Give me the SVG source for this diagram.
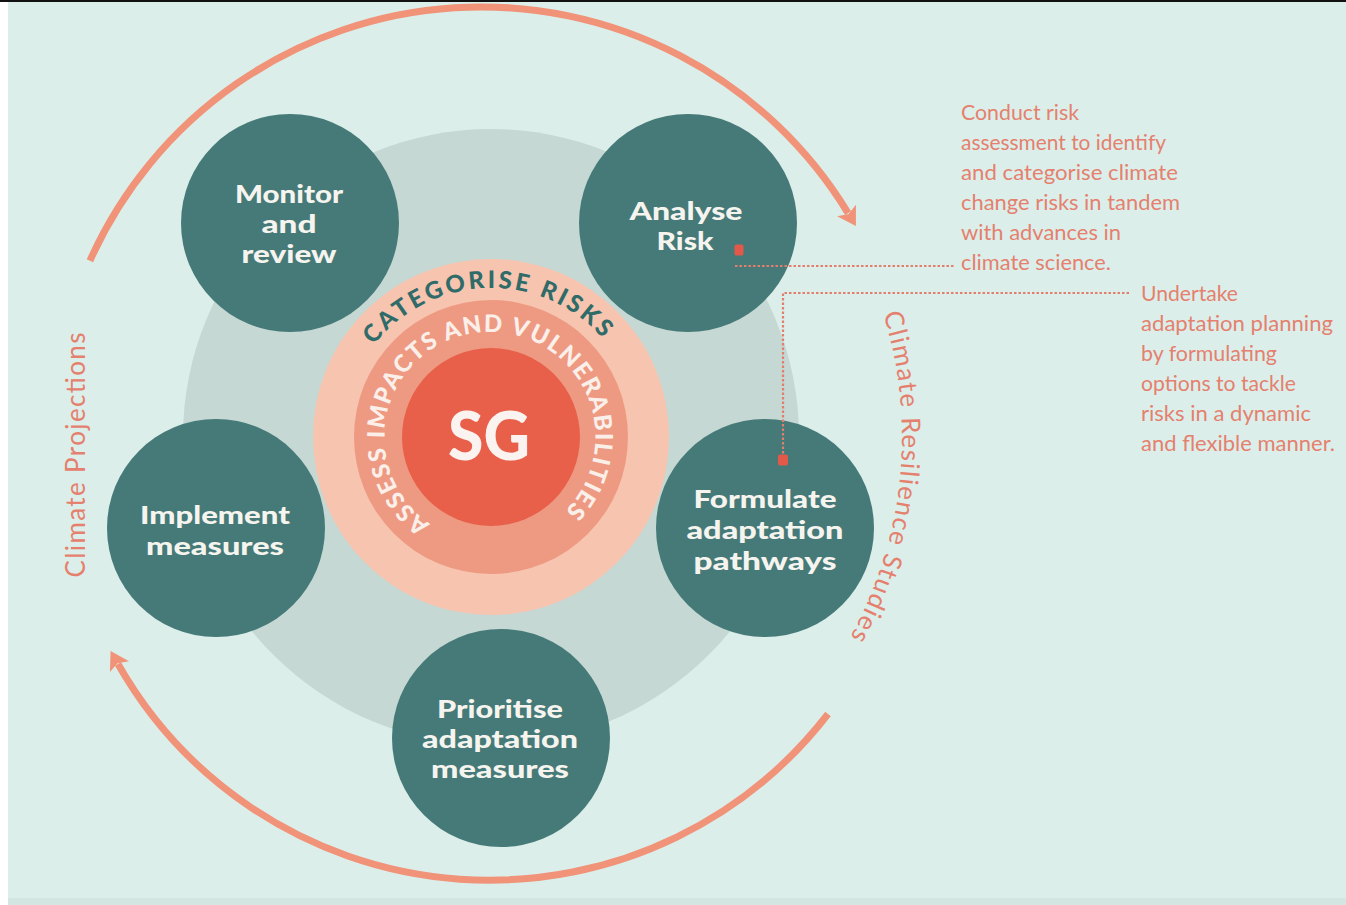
<svg xmlns="http://www.w3.org/2000/svg" width="1346" height="905" viewBox="0 0 1346 905">
  <defs>
    <style>
      .node circle { fill: #467A78; }
      .node text { font-family: Lato, "Open Sans", sans-serif; font-weight: 900; font-size: 25px; fill: #F6F4EF; text-anchor: middle; }
      .cycle { fill: none; stroke: #F09379; stroke-width: 7; }
      .leader { fill: none; stroke: #E27E6C; stroke-width: 2.2; stroke-dasharray: 2.5 2; }
      .pin { fill: #E2594A; }
      .note { font-family: Lato, "Open Sans", sans-serif; font-size: 22px; fill: #E5806E; }
      .side { font-family: Lato, "Open Sans", sans-serif; font-size: 26px; fill: #E5806E; }
      .ring-label { font-family: Lato, "Open Sans", sans-serif; font-weight: 900; }
    </style>
    <marker id="head" markerUnits="userSpaceOnUse" orient="auto" markerWidth="40" markerHeight="40" viewBox="-20 -20 40 40" refX="2" refY="0" style="overflow:visible">
      <path d="M -1 -11 L 17 0 L -1 11 L 3 0 Z" fill="#F09379"/>
    </marker>
    <!-- baselines for the curved labels -->
    <path id="arc-categorise" d="M 342 437 A 149 149 0 0 1 640 437"/>
    <path id="arc-assess" d="M 430.2 523.8 A 105 105 0 0 1 481.8 332.4 A 105 105 0 0 1 565 511"/>
    <path id="arc-resilience" d="M 881.9 310 A 411 411 0 0 1 843.3 648.7"/>
  </defs>

  <!-- canvas -->
  <rect x="0" y="0" width="1346" height="905" fill="#DCEEEA"/>
  <rect x="0" y="898" width="1346" height="7" fill="#D3E6E2"/>
  <rect x="0" y="0" width="8" height="905" fill="#FFFFFF"/>
  <rect x="0" y="0" width="1346" height="2" fill="#111111"/>

  <!-- backdrop disc behind the cycle -->
  <circle cx="491" cy="437" r="308" fill="#C5D8D4"/>

  <!-- centre: rings and SG core -->
  <g id="core">
    <circle cx="491" cy="437" r="178" fill="#F7C4AF"/>
    <circle cx="491" cy="437" r="137" fill="#EE9A82"/>
    <circle cx="491" cy="437" r="89" fill="#E8604A"/>
    <text x="489" y="460" font-family="Lato, 'Open Sans', sans-serif" font-weight="900" font-size="66" fill="#FBF3EF" text-anchor="middle" textLength="82" lengthAdjust="spacingAndGlyphs">SG</text>
    <text class="ring-label" font-size="24" fill="#2F6B68">
      <textPath href="#arc-categorise" startOffset="99" textLength="261" lengthAdjust="spacing">CATEGORISE RISKS</textPath>
    </text>
    <text class="ring-label" font-size="24" fill="#FBEFEA">
      <textPath href="#arc-assess" startOffset="0" textLength="514" lengthAdjust="spacing">ASSESS IMPACTS AND VULNERABILITIES</textPath>
    </text>
  </g>

  <!-- cycle steps -->
  <g id="node-monitor" class="node">
    <circle cx="290" cy="223" r="109"/>
    <text x="289" y="203" textLength="108" lengthAdjust="spacingAndGlyphs">Monitor</text>
    <text x="289" y="233" textLength="55" lengthAdjust="spacingAndGlyphs">and</text>
    <text x="289" y="263" textLength="95" lengthAdjust="spacingAndGlyphs">review</text>
  </g>
  <g id="node-analyse" class="node">
    <circle cx="688" cy="223" r="109"/>
    <text x="686" y="220" textLength="113" lengthAdjust="spacingAndGlyphs">Analyse</text>
    <text x="685" y="250" textLength="57" lengthAdjust="spacingAndGlyphs">Risk</text>
  </g>
  <g id="node-implement" class="node">
    <circle cx="216" cy="528" r="109"/>
    <text x="215" y="524" textLength="150" lengthAdjust="spacingAndGlyphs">Implement</text>
    <text x="215" y="555" textLength="138" lengthAdjust="spacingAndGlyphs">measures</text>
  </g>
  <g id="node-formulate" class="node">
    <circle cx="765" cy="528" r="109"/>
    <text x="765" y="508" textLength="143" lengthAdjust="spacingAndGlyphs">Formulate</text>
    <text x="765" y="539" textLength="157" lengthAdjust="spacingAndGlyphs">adaptation</text>
    <text x="765" y="570" textLength="143" lengthAdjust="spacingAndGlyphs">pathways</text>
  </g>
  <g id="node-prioritise" class="node">
    <circle cx="501" cy="738" r="109"/>
    <text x="500" y="718" textLength="126" lengthAdjust="spacingAndGlyphs">Prioritise</text>
    <text x="500" y="748" textLength="156" lengthAdjust="spacingAndGlyphs">adaptation</text>
    <text x="500" y="778" textLength="138" lengthAdjust="spacingAndGlyphs">measures</text>
  </g>

  <!-- connectors: cycle arrows and annotation leaders -->
  <g id="connectors">
    <path class="cycle" d="M 89.9 260.8 A 429 429 0 0 1 848.1 213.1" marker-end="url(#head)"/>
    <path class="cycle" d="M 828 714 A 427.5 427.5 0 0 1 118 664" marker-end="url(#head)"/>
    <path class="leader" d="M 735 266 H 955"/>
    <path class="leader" d="M 783 458 V 293 H 1131"/>
    <rect class="pin" x="734.5" y="244.5" width="9" height="11" rx="2"/>
    <rect class="pin" x="778" y="454.5" width="10" height="11" rx="2"/>
  </g>

  <!-- side captions -->
  <g id="caption-projections">
    <text class="side" transform="translate(85 455) rotate(-90)" text-anchor="middle" textLength="245" lengthAdjust="spacing">Climate Projections</text>
  </g>
  <g id="caption-resilience">
    <text class="side" font-size="24">
      <textPath href="#arc-resilience" startOffset="4" textLength="334" lengthAdjust="spacing">Climate Resilience Studies</textPath>
    </text>
  </g>

  <!-- annotations -->
  <g id="note-analyse">
    <text class="note" x="961" y="120" textLength="118" lengthAdjust="spacingAndGlyphs">Conduct risk</text>
    <text class="note" x="961" y="150" textLength="205" lengthAdjust="spacingAndGlyphs">assessment to identify</text>
    <text class="note" x="961" y="180" textLength="217" lengthAdjust="spacingAndGlyphs">and categorise climate</text>
    <text class="note" x="961" y="210" textLength="219" lengthAdjust="spacingAndGlyphs">change risks in tandem</text>
    <text class="note" x="961" y="240" textLength="160" lengthAdjust="spacingAndGlyphs">with advances in</text>
    <text class="note" x="961" y="270" textLength="150" lengthAdjust="spacingAndGlyphs">climate science.</text>
  </g>
  <g id="note-formulate">
    <text class="note" x="1141" y="301" textLength="97" lengthAdjust="spacingAndGlyphs">Undertake</text>
    <text class="note" x="1141" y="331" textLength="192" lengthAdjust="spacingAndGlyphs">adaptation planning</text>
    <text class="note" x="1141" y="361" textLength="136" lengthAdjust="spacingAndGlyphs">by formulating</text>
    <text class="note" x="1141" y="391" textLength="155" lengthAdjust="spacingAndGlyphs">options to tackle</text>
    <text class="note" x="1141" y="421" textLength="170" lengthAdjust="spacingAndGlyphs">risks in a dynamic</text>
    <text class="note" x="1141" y="451" textLength="194" lengthAdjust="spacingAndGlyphs">and flexible manner.</text>
  </g>
</svg>
